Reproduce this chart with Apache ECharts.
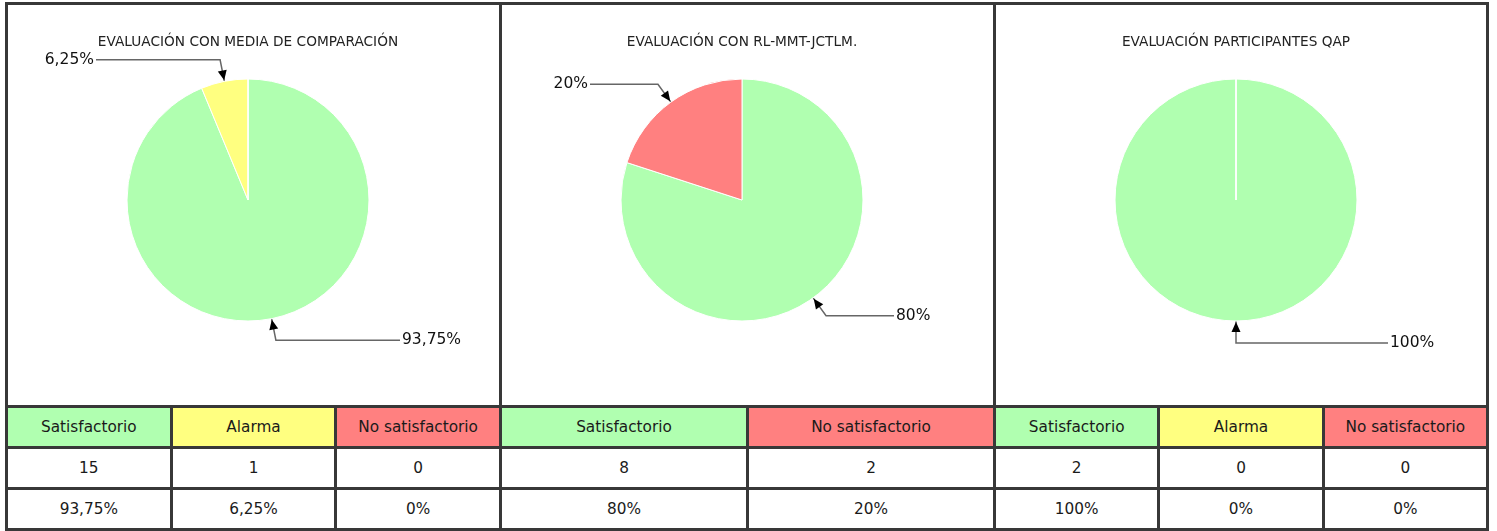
<!DOCTYPE html>
<html>
<head>
<meta charset="utf-8">
<script src="https://cdn.jsdelivr.net/npm/echarts@6/dist/echarts.min.js"></script>
<style>
    body { margin: 0; background: #fff; font-family: 'DejaVu Sans', sans-serif; }
    #frame { position: absolute; left: 5px; top: 2px; width: 1484px; height: 529px; background: #383838; }
    .area { position: absolute; top: 5px; height: 400px; background: #fff; }
    .grid { position: absolute; top: 408px; display: grid; gap: 3px; grid-auto-rows: 38px; }
    .cell { background: #fff; color: #1a1a1a; font-size: 15.3px; display: flex; align-items: center; justify-content: center; }
    #chart { position: absolute; left: 0; top: 0; width: 1497px; height: 405px; }
</style>
</head>
<body>
<div id="frame"></div>
<div id="chart"></div>

<script>
    // datos
    const titles = ['EVALUACIÓN CON MEDIA DE COMPARACIÓN', 'EVALUACIÓN CON RL-MMT-JCTLM.', 'EVALUACIÓN PARTICIPANTES QAP'];
    const mediaCategories = ['Satisfactorio', 'Alarma', 'No satisfactorio'];
    const mediaCounts = [15, 1, 0];
    const mediaPct = ['93,75%', '6,25%', '0%'];
    const jctlmCategories = ['Satisfactorio', 'No satisfactorio'];
    const jctlmCounts = [8, 2];
    const jctlmPct = ['80%', '20%'];
    const qapCategories = ['Satisfactorio', 'Alarma', 'No satisfactorio'];
    const qapCounts = [2, 0, 0];
    const qapPct = ['100%', '0%', '0%'];

    const colorOf = { 'Satisfactorio': '#b0ffb0', 'Alarma': '#ffff80', 'No satisfactorio': '#ff8080' };

    // layout of the three panels (inner left, inner width, pie centre x)
    const panels = [
        { cats: mediaCategories, counts: mediaCounts, pct: mediaPct, left: 8, width: 491, cx: 248 },
        { cats: jctlmCategories, counts: jctlmCounts, pct: jctlmPct, left: 502, width: 491, cx: 742 },
        { cats: qapCategories, counts: qapCounts, pct: qapPct, left: 996, width: 490, cx: 1236 }
    ];

    // white areas + tables
    panels.forEach(function (p) {
        const area = document.createElement('div');
        area.className = 'area';
        area.style.left = p.left + 'px';
        area.style.width = p.width + 'px';
        document.body.insertBefore(area, document.getElementById('chart'));

        const grid = document.createElement('div');
        grid.className = 'grid';
        grid.style.left = p.left + 'px';
        grid.style.width = p.width + 'px';
        grid.style.gridTemplateColumns = 'repeat(' + p.cats.length + ', 1fr)';
        const rows = [p.cats, p.counts, p.pct];
        rows.forEach(function (row, r) {
            row.forEach(function (txt, i) {
                const c = document.createElement('div');
                c.className = 'cell';
                if (r === 0) c.style.background = colorOf[p.cats[i]];
                c.textContent = txt;
                grid.appendChild(c);
            });
        });
        document.body.appendChild(grid);
    });

    const chart = echarts.init(document.getElementById('chart'));

    function guide(si, di) {
        const lay = chart.getModel().getSeriesByIndex(si).getData().getItemLayout(di);
        const mid = (lay.startAngle + lay.endAngle) / 2;
        const ux = Math.cos(mid), uy = Math.sin(mid);
        const edge = [lay.cx + lay.r * ux, lay.cy + lay.r * uy];
        const bend = [edge[0] + 22 * ux, edge[1] + 22 * uy];
        const left = bend[0] < lay.cx - 1;
        const end = [lay.cx + (left ? -1 : 1) * (lay.r + 31), bend[1]];
        return { edge: edge, bend: bend, end: end, left: left, ux: ux, uy: uy };
    }

    const series = panels.map(function (p) {
        return {
            type: 'pie',
            center: [p.cx, 200],
            radius: 121,
            startAngle: 90,
            clockwise: true,
            animation: false,
            avoidLabelOverlap: false,
            emphasis: { disabled: true },
            itemStyle: { borderColor: '#fff', borderWidth: 1 },
            label: {
                show: true,
                position: 'outside',
                fontFamily: 'DejaVu Sans',
                fontSize: 15.5,
                color: '#111',
                formatter: function (prm) {
                    return String(prm.percent).replace('.', ',') + '%';
                }
            },
            labelLine: { show: true, length: 22, length2: 10, lineStyle: { color: '#666', width: 1.5 } },
            labelLayout: function (prm) {
                const g = guide(prm.seriesIndex, prm.dataIndex);
                return {
                    x: g.end[0] + (g.left ? -2 : 2),
                    y: g.end[1],
                    align: g.left ? 'right' : 'left',
                    verticalAlign: 'middle',
                    labelLinePoints: [g.edge, g.bend, g.end]
                };
            },
            data: p.cats.map(function (c, i) {
                const item = { name: c, value: p.counts[i], itemStyle: { color: colorOf[c] } };
                if (p.counts[i] === 0) {
                    item.label = { show: false };
                    item.labelLine = { show: false };
                }
                return item;
            })
        };
    });

    chart.setOption({
        title: panels.map(function (p, i) {
            return {
                text: titles[i],
                left: p.cx - 5,
                top: 30,
                textAlign: 'center',
                textStyle: { fontFamily: 'DejaVu Sans', fontSize: 13.7, fontWeight: 'normal', color: '#222' }
            };
        }),
        series: series
    });

    // arrow heads at the pie edge
    const arrows = [];
    panels.forEach(function (p, si) {
        p.counts.forEach(function (v, di) {
            if (v === 0) return;
            const g = guide(si, di);
            const tip = [g.edge[0] + g.ux, g.edge[1] + g.uy];
            const base = [g.edge[0] + 11 * g.ux, g.edge[1] + 11 * g.uy];
            const px = -g.uy * 4.5, py = g.ux * 4.5;
            arrows.push({
                type: 'polygon',
                z: 100,
                shape: { points: [tip, [base[0] + px, base[1] + py], [base[0] - px, base[1] - py]] },
                style: { fill: '#000' }
            });
        });
    });
    chart.setOption({ graphic: arrows });
</script>
</body>
</html>
